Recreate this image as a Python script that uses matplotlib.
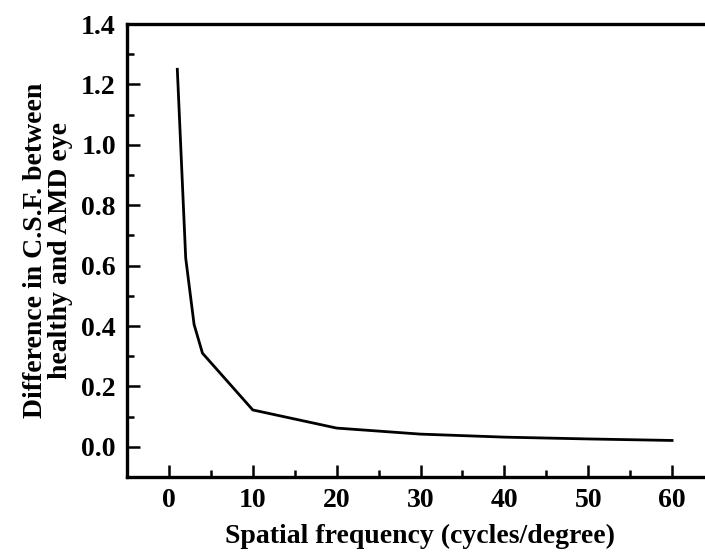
import numpy as np
import matplotlib.pyplot as plt
from matplotlib.ticker import MultipleLocator

# spatial frequency (cycles/degree) and CSF difference
freq = [1, 2, 3, 4, 10, 20, 30, 40, 50, 60]
csf_diff = [1.25, 0.625, 0.405, 0.31, 0.122, 0.062, 0.042, 0.032, 0.026, 0.021]

plt.rcParams['font.family'] = 'Liberation Serif'
plt.rcParams['font.weight'] = 'bold'

fig = plt.figure(figsize=(7.05, 5.56), dpi=100)
ax = fig.add_axes([127 / 705, 1 - 477 / 556, (714 - 127) / 705, (477 - 24) / 556])

ax.plot(freq, csf_diff, color='black', lw=2.0)

ax.set_xlim(-5, 65)
ax.set_ylim(-0.1, 1.4)
ax.xaxis.set_minor_locator(MultipleLocator(5))
ax.yaxis.set_minor_locator(MultipleLocator(0.1))
ax.set_xticks(np.arange(0, 61, 10))
ax.set_yticks(np.arange(0, 1.41, 0.2))
ax.yaxis.set_major_formatter(plt.FormatStrFormatter('%.1f'))

ax.tick_params(which='both', direction='in', width=1.8, top=False, right=False,
               labelsize=20)
ax.tick_params(which='major', length=9, pad=8)
ax.tick_params(which='minor', length=5)
for s in ax.spines.values():
    s.set_linewidth(2.4)

ax.set_xlabel('Spatial frequency (cycles/degree)', fontsize=20, fontweight='bold', labelpad=8)
ax.set_ylabel('Difference in C.S.F. between\nhealthy and AMD eye', fontsize=20,
              fontweight='bold', labelpad=6, linespacing=1.0)

fig.savefig('out.png', dpi=100)
